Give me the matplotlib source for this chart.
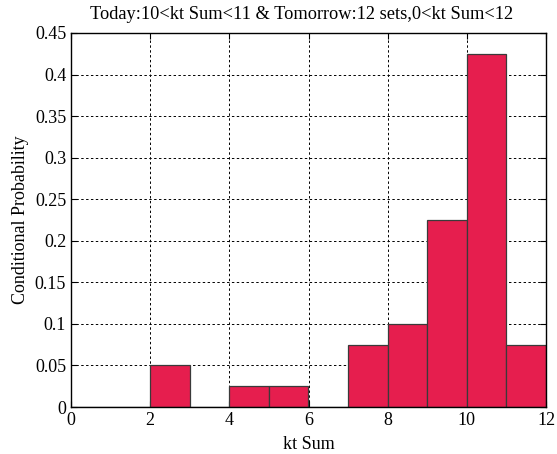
import matplotlib
matplotlib.use("Agg")
import matplotlib.pyplot as plt
import numpy as np

bin_edges = [0, 1, 2, 3, 4, 5, 6, 7, 8, 9, 10, 11, 12]
probabilities = [0, 0, 0.05, 0, 0.025, 0.025, 0, 0.075, 0.1, 0.225, 0.425, 0.075]
x_ticks = [0, 2, 4, 6, 8, 10, 12]
y_ticks = [0, 0.05, 0.1, 0.15, 0.2, 0.25, 0.3, 0.35, 0.4, 0.45]
y_tick_labels = ["0", "0.05", "0.1", "0.15", "0.2", "0.25", "0.3", "0.35", "0.4", "0.45"]

plt.rcParams["font.family"] = ["Liberation Serif", "DejaVu Serif"]
plt.rcParams["font.size"] = 13

fig = plt.figure(figsize=(5.57, 4.54), dpi=100)
ax = fig.add_axes([71 / 557, 1 - 407 / 454, (546 - 71) / 557, (407 - 33) / 454])

lefts = np.array(bin_edges[:-1])
widths = np.diff(bin_edges)
ax.bar(lefts, probabilities, width=widths, align="edge", color="#E61E4E",
       edgecolor="#3a3a3a", linewidth=0.9, zorder=2)

ax.set_xlim(0, 12)
ax.set_ylim(0, 0.45)
ax.set_xticks(x_ticks)
ax.set_yticks(y_ticks)
ax.set_yticklabels(y_tick_labels)
ax.grid(True, color="black", linestyle=(0, (2.5, 2.5)), linewidth=0.7, zorder=0)
ax.set_axisbelow(True)
ax.tick_params(direction="in", top=True, right=True, length=4, width=0.8, labelsize=13)
for s in ax.spines.values():
    s.set_linewidth(1.0)
    s.set_zorder(3)

ax.set_xlabel("kt Sum", fontsize=13, labelpad=5)
ax.set_ylabel("Conditional Probability", fontsize=13, labelpad=4)
ax.set_title("Today:10<kt Sum<11 & Tomorrow:12 sets,0<kt Sum<12", fontsize=13.2,
             pad=10, x=0.485)

fig.savefig("out.png", dpi=100)
